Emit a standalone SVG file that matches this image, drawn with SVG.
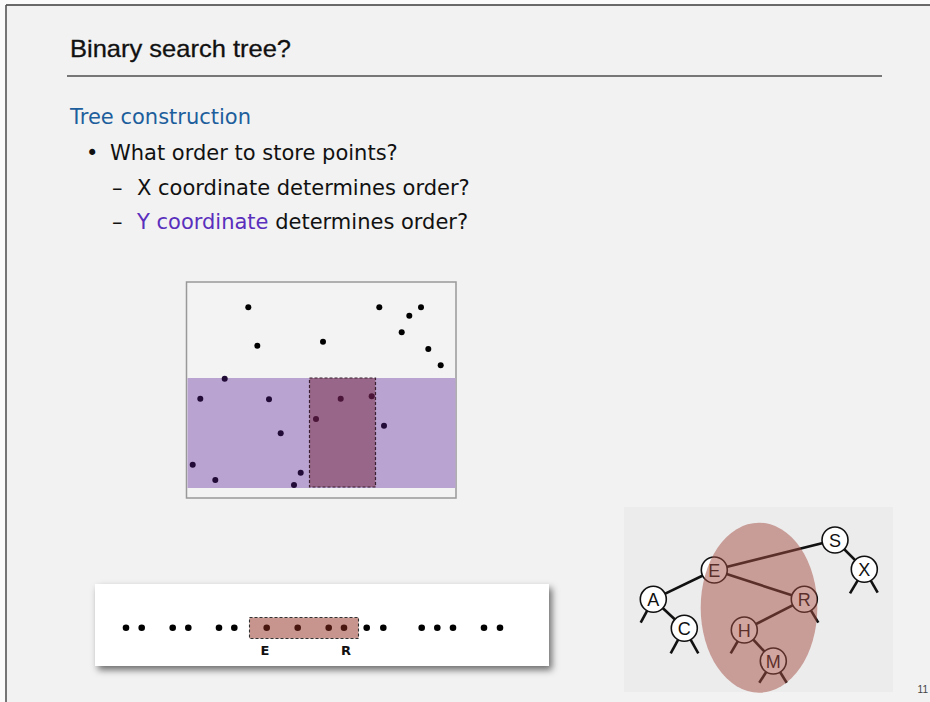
<svg xmlns="http://www.w3.org/2000/svg" width="930" height="702" viewBox="0 0 930 702">
<defs>
<filter id="shadow" x="-5%" y="-20%" width="115%" height="150%">
<feDropShadow dx="3" dy="4" stdDeviation="3.5" flood-color="#000" flood-opacity="0.55"/>
</filter>
<style>
.body{font-family:"DejaVu Sans","Liberation Sans",sans-serif;font-size:21px;fill:#111}
.pt{fill:#000}
.pb{fill:#220b36}
.pd{fill:#4a1538}
.lp{fill:#000}
.lbl{font-family:"DejaVu Sans",sans-serif;font-weight:bold;font-size:13px;fill:#111;text-anchor:middle}
.edge{stroke:#111;stroke-width:2.6;stroke-linecap:butt;fill:none}
.node circle{fill:#fff;stroke:#111;stroke-width:1.6}
.node text{font-family:"Liberation Sans",Arial,sans-serif;font-size:18px;fill:#111;text-anchor:middle}
</style>
</defs>
<rect x="0" y="0" width="930" height="702" fill="#fbfbfb"/>
<rect x="6" y="5" width="930" height="700" fill="#f2f2f2"/>
<line x1="6" y1="5" x2="930" y2="5" stroke="#3a3a3a" stroke-width="1.6"/>
<line x1="6" y1="5" x2="6" y2="702" stroke="#555" stroke-width="1.6"/>

<g id="title">
<text x="70" y="57" font-family="Liberation Sans,Arial,sans-serif" font-size="24" fill="#111" stroke="#111" stroke-width="0.3" textLength="221" lengthAdjust="spacingAndGlyphs">Binary search tree?</text>
<line x1="67" y1="76" x2="882" y2="76" stroke="#777" stroke-width="2"/>
</g>

<g id="bullets">
<text x="70" y="124" class="body" style="fill:#1d5e9c">Tree construction</text>
<text x="86" y="160" class="body">•</text>
<text x="110" y="160" class="body">What order to store points?</text>
<text x="112" y="195" class="body">–</text>
<text x="137" y="195" class="body">X coordinate determines order?</text>
<text x="112" y="229" class="body">–</text>
<text x="137" y="229" class="body"><tspan style="fill:#5a2fbd">Y coordinate</tspan> determines order?</text>
</g>

<g id="points-panel">
<rect x="186.5" y="282" width="269.5" height="216" fill="#f3f3f3" stroke="#999" stroke-width="1.5"/>
<rect x="187.5" y="378" width="268" height="110" fill="#b9a4d1"/>
<rect x="309.5" y="378" width="66" height="109" fill="#986688" stroke="#3a2030" stroke-width="1.2" stroke-dasharray="3,2"/>
<circle class="pt" cx="248.3" cy="307.3" r="3"/>
<circle class="pt" cx="379.3" cy="307.3" r="3"/>
<circle class="pt" cx="421" cy="307.3" r="3"/>
<circle class="pt" cx="409.3" cy="315.7" r="3"/>
<circle class="pt" cx="401.7" cy="332.3" r="3"/>
<circle class="pt" cx="257.3" cy="345.7" r="3"/>
<circle class="pt" cx="323" cy="341.7" r="3"/>
<circle class="pt" cx="428.3" cy="349" r="3"/>
<circle class="pt" cx="440.7" cy="365.3" r="3"/>
<circle class="pb" cx="224.7" cy="378.7" r="3"/>
<circle class="pb" cx="200.3" cy="398.7" r="3"/>
<circle class="pb" cx="269" cy="399.3" r="3"/>
<circle class="pd" cx="340.7" cy="398.7" r="3"/>
<circle class="pd" cx="371.7" cy="396.3" r="3"/>
<circle class="pd" cx="316" cy="419" r="3"/>
<circle class="pb" cx="384" cy="425.7" r="3"/>
<circle class="pb" cx="280.7" cy="433.3" r="3"/>
<circle class="pb" cx="192.7" cy="464.7" r="3"/>
<circle class="pb" cx="215.3" cy="480" r="3"/>
<circle class="pb" cx="300.7" cy="472.7" r="3"/>
<circle class="pb" cx="294" cy="485" r="3"/>
</g>

<g id="line-panel">
<rect x="95" y="584" width="454" height="82" fill="#fff" filter="url(#shadow)"/>
<g class="lp">
<circle cx="126" cy="627.7" r="3.3"/>
<circle cx="141.7" cy="627.7" r="3.3"/>
<circle cx="172.7" cy="627.7" r="3.3"/>
<circle cx="188.3" cy="627.7" r="3.3"/>
<circle cx="219" cy="627.7" r="3.3"/>
<circle cx="234.3" cy="627.7" r="3.3"/>
<circle cx="266.7" cy="627.7" r="3.3"/>
<circle cx="297.7" cy="627.7" r="3.3"/>
<circle cx="328.7" cy="627.7" r="3.3"/>
<circle cx="344" cy="627.7" r="3.3"/>
<circle cx="366.7" cy="627.7" r="3.3"/>
<circle cx="383.3" cy="627.7" r="3.3"/>
<circle cx="421.7" cy="627.7" r="3.3"/>
<circle cx="437.3" cy="627.7" r="3.3"/>
<circle cx="453" cy="627.7" r="3.3"/>
<circle cx="484" cy="627.7" r="3.3"/>
<circle cx="500" cy="627.7" r="3.3"/>
</g>
<rect x="249.5" y="617.5" width="109" height="21" fill="#912b1d" fill-opacity="0.5" stroke="#333" stroke-width="1.1" stroke-dasharray="3,2"/>
<text x="265" y="655" class="lbl">E</text>
<text x="346" y="655" class="lbl">R</text>
</g>

<rect id="tree-panel" x="624" y="507" width="269" height="185" fill="#ececec"/>

<g id="connectors">
<line class="edge" x1="835" y1="540" x2="714.3" y2="570"/>
<line class="edge" x1="835" y1="540" x2="864.3" y2="569.3"/>
<line class="edge" x1="714.3" y1="570" x2="653.3" y2="599.3"/>
<line class="edge" x1="714.3" y1="570" x2="804.3" y2="599.3"/>
<line class="edge" x1="653.3" y1="599.3" x2="684.3" y2="628.3"/>
<line class="edge" x1="653.3" y1="599.3" x2="640.7" y2="622.7"/>
<line class="edge" x1="684.3" y1="628.3" x2="670.7" y2="653.3"/>
<line class="edge" x1="684.3" y1="628.3" x2="698.3" y2="653.3"/>
<line class="edge" x1="864.3" y1="569.3" x2="850" y2="593.3"/>
<line class="edge" x1="864.3" y1="569.3" x2="877.7" y2="592.7"/>
<line class="edge" x1="804.3" y1="599.3" x2="744.3" y2="630"/>
<line class="edge" x1="804.3" y1="599.3" x2="818.3" y2="622.7"/>
<line class="edge" x1="744.3" y1="630" x2="730.7" y2="653.3"/>
<line class="edge" x1="744.3" y1="630" x2="773.3" y2="661"/>
<line class="edge" x1="773.3" y1="661" x2="759.3" y2="682.7"/>
<line class="edge" x1="773.3" y1="661" x2="786.7" y2="682.7"/>
</g>

<g id="node-S" class="node"><circle cx="835" cy="540" r="13"/><text x="835" y="546.5">S</text></g>
<g id="node-X" class="node"><circle cx="864.3" cy="569.3" r="13"/><text x="864.3" y="575.8">X</text></g>
<g id="node-E" class="node"><circle cx="714.3" cy="570" r="13"/><text x="714.3" y="576.5">E</text></g>
<g id="node-A" class="node"><circle cx="653.3" cy="599.3" r="13"/><text x="653.3" y="605.8">A</text></g>
<g id="node-R" class="node"><circle cx="804.3" cy="599.3" r="13"/><text x="804.3" y="605.8">R</text></g>
<g id="node-C" class="node"><circle cx="684.3" cy="628.3" r="13"/><text x="684.3" y="634.8">C</text></g>
<g id="node-H" class="node"><circle cx="744.3" cy="630" r="13"/><text x="744.3" y="636.5">H</text></g>
<g id="node-M" class="node"><circle cx="773.3" cy="661" r="13"/><text x="773.3" y="667.5">M</text></g>

<ellipse id="range" cx="759" cy="607.7" rx="58.3" ry="85" fill="#a44c42" fill-opacity="0.5"/>

<text x="928" y="693" font-family="Liberation Sans,Arial,sans-serif" font-size="10" fill="#444" text-anchor="end">11</text>
</svg>
